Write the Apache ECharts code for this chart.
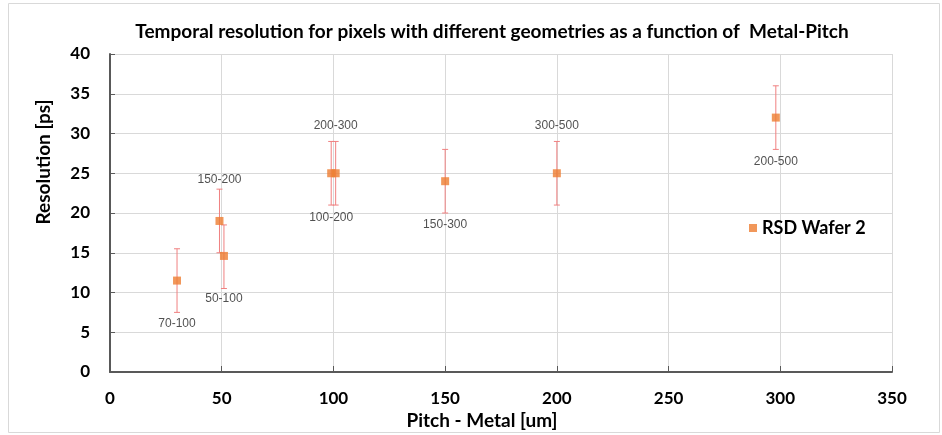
<!DOCTYPE html>
<html><head><meta charset="utf-8">
<script src="https://cdn.jsdelivr.net/npm/echarts@6/dist/echarts.min.js"></script>
<style>html,body{margin:0;padding:0;background:#fff}#c{width:942px;height:435px}</style>
</head><body><div id="c"></div>
<script>
const pitch = [30, 49, 51, 99, 101, 150, 200, 298];
const resolution = [11.5, 19, 14.6, 25, 25, 24, 25, 32];
const errLow = [7.5, 15, 10.5, 21, 21, 20, 21, 28];
const errHigh = [15.5, 23, 18.5, 29, 29, 28, 29, 36];
const geometry = ['70-100', '150-200', '50-100', '100-200', '200-300', '150-300', '300-500', '200-500'];
const labelSide = ['bottom', 'top', 'bottom', 'bottom', 'top', 'bottom', 'top', 'bottom'];
const labelGap = [33, 31, 33, 34, 38, 33, 38, 34];
const xTicks = [0, 50, 100, 150, 200, 250, 300, 350];
const yTicks = [0, 5, 10, 15, 20, 25, 30, 35, 40];

const FONT = 'Lato, "Open Sans", sans-serif';
const chart = echarts.init(document.getElementById('c'));

const scatterData = pitch.map((x, i) => ({
  value: [x, resolution[i]],
  label: { position: labelSide[i], distance: labelGap[i], formatter: geometry[i] }
}));
const errData = pitch.map((x, i) => [x, errLow[i], errHigh[i]]);

const nameStyle = { fontFamily: FONT, fontWeight: 'bold', fontSize: 19, fill: '#000' };

chart.setOption({
  animation: false,
  graphic: [
    { type: 'rect', shape: { x: 8.5, y: 3.5, width: 931, height: 429 }, style: { fill: 'none', stroke: '#d9d9d9', lineWidth: 1 }, silent: true },
    { type: 'text', x: 44, y: 162, rotation: Math.PI / 2, style: Object.assign({ text: 'Resolution [ps]', align: 'center', verticalAlign: 'middle' }, nameStyle) },
    { type: 'text', x: 482, y: 421, style: Object.assign({ text: 'Pitch - Metal [um]', align: 'center', verticalAlign: 'middle' }, nameStyle) }
  ],
  title: {
    text: 'Temporal resolution for pixels with different geometries as a function of  Metal-Pitch',
    left: 487, top: 17, textAlign: 'center',
    textStyle: { fontFamily: FONT, fontWeight: 'bold', fontSize: 19, color: '#000' }
  },
  legend: {
    left: 744, top: 214, itemWidth: 8, itemHeight: 8, itemGap: 6,
    data: [{ name: 'RSD Wafer 2', icon: 'rect' }],
    textStyle: { fontFamily: FONT, fontWeight: 'bold', fontSize: 18, color: '#000' }
  },
  grid: { left: 110, right: 50, top: 54, bottom: 63, containLabel: false },
  xAxis: {
    type: 'value', min: xTicks[0], max: xTicks[xTicks.length - 1], interval: 50,
    axisLine: { lineStyle: { color: '#595959', width: 2 } },
    axisTick: { show: true, inside: true, length: 6, lineStyle: { color: '#595959', width: 1 } },
    axisLabel: { fontFamily: FONT, fontWeight: 'bold', fontSize: 17, color: '#000', margin: 18 },
    splitLine: { show: true, lineStyle: { color: '#d9d9d9', width: 1 } }
  },
  yAxis: {
    type: 'value', min: yTicks[0], max: yTicks[yTicks.length - 1], interval: 5,
    axisLine: { show: true, lineStyle: { color: '#595959', width: 2 } },
    axisTick: { show: true, inside: true, length: 5, lineStyle: { color: '#595959', width: 1 } },
    axisLabel: { fontFamily: FONT, fontWeight: 'bold', fontSize: 17, color: '#000', margin: 20 },
    splitLine: { show: true, lineStyle: { color: '#d9d9d9', width: 1 } }
  },
  series: [
    {
      type: 'custom', name: 'err', silent: true, z: 1,
      encode: { x: 0, y: [1, 2] },
      data: errData,
      renderItem: function (params, api) {
        const x = api.value(0);
        const lo = api.coord([x, api.value(1)]);
        const hi = api.coord([x, api.value(2)]);
        const cw = 3;
        const st = { stroke: '#f08080', lineWidth: 1 };
        return {
          type: 'group', children: [
            { type: 'line', shape: { x1: lo[0], y1: lo[1], x2: hi[0], y2: hi[1] }, style: st },
            { type: 'line', shape: { x1: lo[0] - cw, y1: lo[1], x2: lo[0] + cw, y2: lo[1] }, style: st },
            { type: 'line', shape: { x1: hi[0] - cw, y1: hi[1], x2: hi[0] + cw, y2: hi[1] }, style: st }
          ]
        };
      }
    },
    {
      type: 'scatter', name: 'RSD Wafer 2', symbol: 'rect', symbolSize: 8, z: 3,
      itemStyle: { color: '#ed7d31' },
      label: { show: true, fontFamily: '"Liberation Sans", Arial, sans-serif', fontSize: 12, color: '#262626' },
      data: scatterData
    }
  ]
});
</script></body></html>
